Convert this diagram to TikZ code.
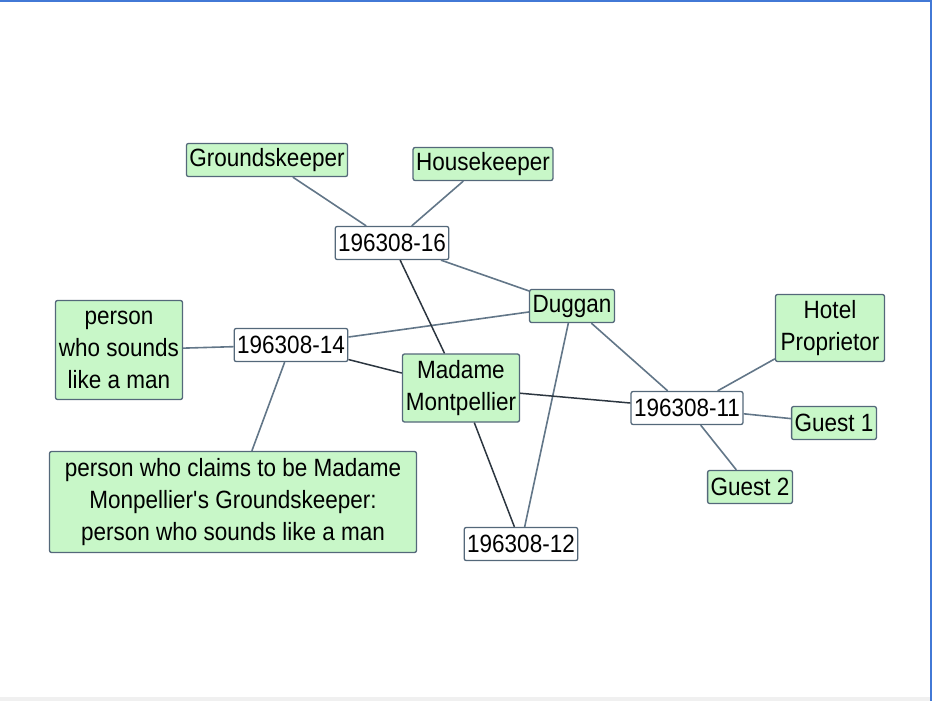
\documentclass[tikz,border=0pt]{standalone}
\usepackage{fontspec}
\setmainfont{Liberation Sans}[FakeStretch=0.9]

\definecolor{rolegreen}{RGB}{200,247,200}
\definecolor{boxline}{RGB}{84,104,122}
\definecolor{linkline}{RGB}{98,118,136}
\definecolor{darklink}{RGB}{44,54,64}
\definecolor{frameblue}{RGB}{66,121,214}

\begin{document}
\begin{tikzpicture}[x=1pt, y=-1pt,
    box/.style={draw=boxline, line width=1.3pt, rounded corners=2pt, inner xsep=3pt, inner ysep=0pt,
        minimum height=33pt, align=center, font=\fontsize{25}{32}\selectfont},
    role/.style={box, fill=rolegreen},
    report/.style={box, fill=white},
    link/.style={linkline, line width=1.6pt},
    strong/.style={darklink, line width=1.5pt}]
    \useasboundingbox (0,0) rectangle (932,701);

    % window frame
    \fill[frameblue] (0,0) rectangle (932,2);
    \fill[frameblue] (930,0) rectangle (932,701);
    \fill[black!6] (0,697) rectangle (930,701);

    % people
    \node[role] (grounds) at (267,160) {Groundskeeper};
    \node[role] (house) at (483,164) {Housekeeper};
    \node[role] (duggan) at (572,306) {Duggan};
    \node[role, minimum width=127pt, minimum height=99pt] (voice) at (119,350) {person\\who sounds\\like a man};
    \node[role, minimum width=117pt, minimum height=68pt] (madame) at (461,388) {Madame\\Montpellier};
    \node[role, minimum width=109pt, minimum height=67pt] (hotel) at (830,328) {Hotel\\Proprietor};
    \node[role] (guest1) at (834,423) {Guest 1};
    \node[role] (guest2) at (750,487) {Guest 2};
    \node[role, minimum width=367pt, minimum height=101pt] (claims) at (233,502)
        {person who claims to be Madame\\Monpellier\textquotesingle s Groundskeeper:\\person who sounds like a man};

    % reports
    \node[report] (r16) at (392,243) {196308-16};
    \node[report] (r14) at (291,345) {196308-14};
    \node[report] (r11) at (687,408) {196308-11};
    \node[report] (r12) at (521,544) {196308-12};

    % links
    \draw[link] (grounds) -- (r16);
    \draw[link] (house) -- (r16);
    \draw[link] (r16) -- (duggan);
    \draw[link] (r14) -- (voice);
    \draw[link] (r14) -- (duggan);
    \draw[link] (r14) -- (claims);
    \draw[link] (duggan) -- (r11);
    \draw[link] (duggan) -- (r12);
    \draw[link] (r11) -- (hotel);
    \draw[link] (r11) -- (guest1);
    \draw[link] (r11) -- (guest2);
    \draw[strong] (r16) -- (madame);
    \draw[strong] (r14) -- (madame);
    \draw[strong] (madame) -- (r11);
    \draw[strong] (madame) -- (r12);
\end{tikzpicture}
\end{document}
